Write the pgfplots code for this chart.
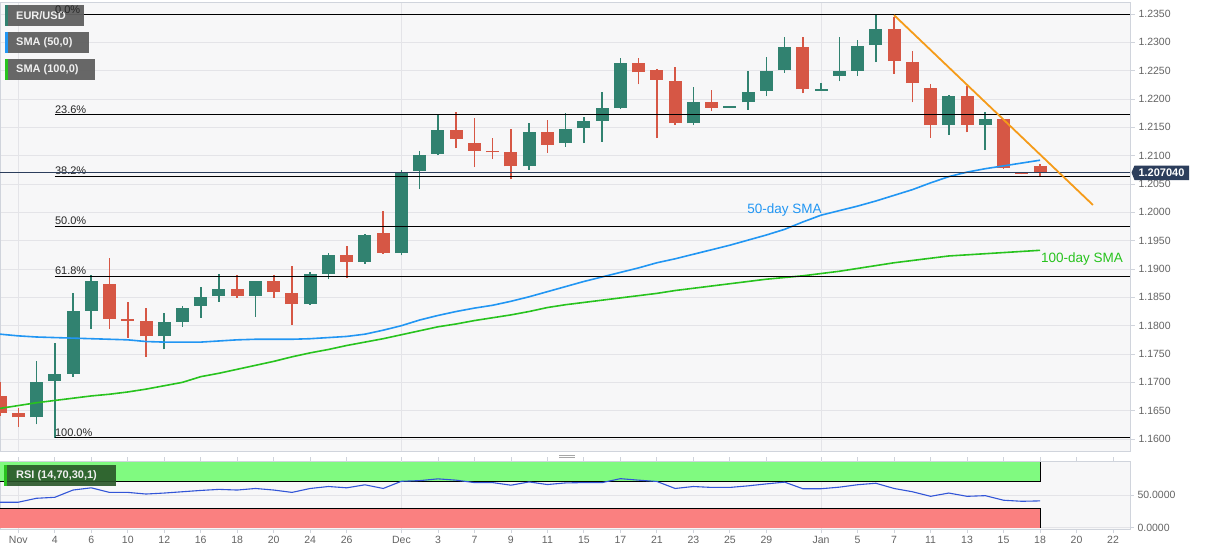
\documentclass[border=0pt]{standalone}
\usepackage{fontspec}
\setmainfont{Liberation Sans}
\usepackage{pgfplots}
\pgfplotsset{compat=1.18}
\usepackage{pgfplotstable}

\definecolor{upc}{RGB}{49,130,112}
\definecolor{downc}{RGB}{214,87,69}
\definecolor{smaA}{RGB}{33,150,243}
\definecolor{smaB}{RGB}{40,195,30}
\definecolor{trendc}{RGB}{245,155,25}
\definecolor{rsic}{RGB}{50,85,215}
\definecolor{rsigreen}{RGB}{128,250,128}
\definecolor{rsired}{RGB}{250,128,128}
\definecolor{pricec}{RGB}{44,62,92}
\definecolor{bgc}{RGB}{247,247,248}
\definecolor{bordc}{RGB}{208,212,220}
\definecolor{gridc}{RGB}{228,228,232}
\definecolor{labc}{RGB}{100,100,100}
\definecolor{boxc}{RGB}{96,96,96}

% EUR/USD daily candles, x = trading day (0 = 2 Nov)
\pgfplotstableread{
i o h l c
1 1.1638 1.1738 1.1626 1.1701
2 1.1703 1.1769 1.1602 1.1715
3 1.1715 1.1857 1.1710 1.1826
4 1.1826 1.1889 1.1795 1.1878
8 1.1781 1.1822 1.1758 1.1806
9 1.1807 1.1835 1.1798 1.1832
10 1.1835 1.1868 1.1814 1.1851
11 1.1853 1.1892 1.1842 1.1864
13 1.1853 1.1878 1.1816 1.1878
16 1.1838 1.1894 1.1837 1.1892
17 1.1892 1.1928 1.1882 1.1924
19 1.1913 1.1962 1.1909 1.1960
21 1.1928 1.2075 1.1924 1.2072
22 1.2073 1.2108 1.2041 1.2101
23 1.2103 1.2172 1.2101 1.2145
28 1.2081 1.2157 1.2075 1.2142
30 1.2122 1.2175 1.2116 1.2147
31 1.2148 1.2168 1.2122 1.2161
32 1.2162 1.2212 1.2125 1.2184
33 1.2184 1.2272 1.2182 1.2263
37 1.2157 1.2221 1.2154 1.2195
39 1.2185 1.2186 1.2184 1.2186
40 1.2194 1.2249 1.2181 1.2213
41 1.2215 1.2275 1.2205 1.2250
42 1.2251 1.2310 1.2246 1.2292
44 1.2215 1.2228 1.2215 1.2216
45 1.2241 1.2310 1.2231 1.2249
46 1.2250 1.2305 1.2241 1.2294
47 1.2295 1.2348 1.2265 1.2324
51 1.2154 1.2207 1.2137 1.2206
53 1.2155 1.2177 1.2110 1.2164
}\upcandles

\pgfplotstableread{
i o h l c
-1 1.1675 1.1701 1.1640 1.1646
0 1.1645 1.1655 1.1622 1.1638
5 1.1874 1.1919 1.1795 1.1812
6 1.1812 1.1842 1.1779 1.1809
7 1.1808 1.1831 1.1745 1.1781
12 1.1864 1.1889 1.1849 1.1853
14 1.1878 1.1889 1.1849 1.1859
15 1.1857 1.1905 1.1801 1.1838
18 1.1924 1.1941 1.1885 1.1913
20 1.1963 1.2002 1.1927 1.1928
24 1.2145 1.2177 1.2113 1.2129
25 1.2122 1.2166 1.2080 1.2109
26 1.2109 1.2132 1.2094 1.2106
27 1.2107 1.2147 1.2058 1.2081
29 1.2142 1.2163 1.2105 1.2119
34 1.2263 1.2272 1.2226 1.2247
35 1.2251 1.2253 1.2131 1.2234
36 1.2232 1.2256 1.2154 1.2157
38 1.2195 1.2216 1.2178 1.2185
43 1.2292 1.2310 1.2210 1.2217
48 1.2324 1.2345 1.2245 1.2267
49 1.2266 1.2285 1.2194 1.2228
50 1.2219 1.2226 1.2132 1.2154
52 1.2206 1.2223 1.2141 1.2155
54 1.2165 1.2165 1.2077 1.2079
55 1.2070 1.2070 1.2067 1.2068
56 1.2082 1.2085 1.2064 1.2070
}\downcandles

\pgfplotstableread{
i sma50 sma100 rsi
-1 1.1785 1.1654 39
0 1.1782 1.1659 39
1 1.1780 1.1664 45
2 1.1779 1.1668 46.5
3 1.1778 1.1672 57.6
4 1.1777 1.1676 61
5 1.1776 1.1679 54
6 1.1775 1.1683 54
7 1.1772 1.1688 51.5
8 1.1771 1.1694 53
9 1.1771 1.1700 55
10 1.1771 1.1710 57
11 1.1773 1.1716 58.6
12 1.1775 1.1723 57.6
13 1.1776 1.1730 60
14 1.1776 1.1737 57.6
15 1.1776 1.1745 54
16 1.1777 1.1752 60
17 1.1779 1.1758 63
18 1.1781 1.1765 61
19 1.1785 1.1771 65.6
20 1.1792 1.1777 60
21 1.1800 1.1784 71
22 1.1810 1.1791 72
23 1.1818 1.1798 74.7
24 1.1825 1.1803 72.7
25 1.1831 1.1809 69
26 1.1836 1.1814 69
27 1.1843 1.1819 65
28 1.1851 1.1825 70
29 1.1860 1.1832 66
30 1.1869 1.1837 68.5
31 1.1878 1.1841 69
32 1.1886 1.1845 69
33 1.1894 1.1849 75
34 1.1902 1.1853 72.7
35 1.1911 1.1857 70.7
36 1.1918 1.1862 60
37 1.1926 1.1866 63
38 1.1934 1.1870 61.6
39 1.1942 1.1874 61.6
40 1.1951 1.1878 64
41 1.1960 1.1882 67
42 1.1970 1.1885 69.7
43 1.1983 1.1888 59.6
44 1.1995 1.1892 59.6
45 1.2003 1.1896 62
46 1.2011 1.1901 65.7
47 1.2020 1.1906 68
48 1.2030 1.1911 60
49 1.2040 1.1915 55
50 1.2052 1.1919 48
51 1.2063 1.1923 53
52 1.2071 1.1925 48
53 1.2077 1.1927 49
54 1.2082 1.1929 42
55 1.2087 1.1931 40.4
56 1.2092 1.1933 41
}\ind

\tikzset{
  fiblab/.style={anchor=south west, inner sep=1pt, font=\fontsize{11}{12}\selectfont, text=black!85},
}
\pgfplotsset{
  tickfont/.style={font=\fontsize{10.5}{12}\selectfont, text=labc},
  wick/.style={draw=none, mark=none, forget plot,
    error bars/.cd, y dir=plus, y explicit, error mark=none,
    error bar style={draw=#1, line width=1.6pt}},
  body/.style={draw=none, mark=none, forget plot,
    error bars/.cd, y dir=plus, y explicit, error mark=none,
    error bar style={draw=#1, line width=13pt}},
}

\begin{document}
\begin{tikzpicture}[x=1pt,y=1pt]
\fill[white] (0,0) rectangle (1207,-555);
\useasboundingbox (0,0) rectangle (1207,-555);

\begin{axis}[
  at={(0pt,-451pt)}, anchor=south west,
  scale only axis, width=1130pt, height=449pt,
  xmin=-1.003, xmax=60.93, ymin=1.15788, ymax=1.23712,
  clip mode=individual,
  axis background/.style={fill=bgc},
  axis line style={draw=bordc},
  xtick={0,21,44}, xticklabels={}, xmajorgrids,
  x tick style={draw=none},
  ytick={1.160,1.165,1.170,1.175,1.180,1.185,1.190,1.195,1.200,1.205,1.210,1.215,1.220,1.225,1.230,1.235},
  ymajorgrids, grid style={draw=gridc, line width=0.8pt},
  yticklabel pos=right, tick align=outside, major tick length=5pt,
  y tick style={draw=bordc, line width=0.8pt},
  scaled y ticks=false,
  yticklabel style={tickfont, /pgf/number format/.cd, fixed, fixed zerofill, precision=4, assume math mode=true},
]
% candles
\addplot[wick=upc] table[x=i, y=l, y error expr=\thisrow{h}-\thisrow{l}] {\upcandles};
\addplot[wick=downc] table[x=i, y=l, y error expr=\thisrow{h}-\thisrow{l}] {\downcandles};
\addplot[body=upc] table[x=i, y expr={min(\thisrow{o},\thisrow{c})}, y error expr={max(abs(\thisrow{c}-\thisrow{o}),0.0003)}] {\upcandles};
\addplot[body=downc] table[x=i, y expr={min(\thisrow{o},\thisrow{c})}, y error expr={max(abs(\thisrow{c}-\thisrow{o}),0.0003)}] {\downcandles};

% moving averages
\addplot[smaA, line width=1.6pt, mark=none] table[x=i, y=sma50] {\ind};
\addplot[smaB, line width=1.6pt, mark=none] table[x=i, y=sma100] {\ind};

% Fibonacci retracements
\pgfplotsinvokeforeach{1.2349,1.21727,1.20636,1.19755,1.18874,1.1602}{
  \addplot[black, line width=1.2pt, mark=none, forget plot] coordinates {(2,#1) (61,#1)};
}
\node[fiblab] at (axis cs:1.95,1.21727) {23.6\%};
\node[fiblab] at (axis cs:1.95,1.20636) {38.2\%};
\node[fiblab] at (axis cs:1.95,1.19755) {50.0\%};
\node[fiblab] at (axis cs:1.95,1.18874) {61.8\%};
\node[fiblab] at (axis cs:1.95,1.1602) {100.0\%};

% last price
\addplot[pricec, line width=0.9pt, mark=none] coordinates {(-1.1,1.20704) (61,1.20704)};
% falling trend line
\addplot[trendc, line width=1.8pt, mark=none] coordinates {(48,1.2348) (58.9,1.2013)};

\node[font=\fontsize{13.5}{15}\selectfont, text=smaA] at (axis cs:42,1.2004) {50-day SMA};
\node[anchor=west, inner sep=0pt, font=\fontsize{13.5}{15}\selectfont, text=smaB] at (axis cs:56.05,1.19176) {100-day SMA};
\end{axis}

\begin{axis}[
  at={(0pt,-529pt)}, anchor=south west,
  scale only axis, width=1130pt, height=68pt,
  xmin=-1.003, xmax=60.93, ymin=-2, ymax=102,
  clip mode=individual,
  axis background/.style={fill=bgc},
  axis line style={draw=bordc},
  xtick={0,2,4,6,8,10,12,14,16,18,21,23,25,27,29,31,33,35,37,39,41,44,46,48,50,52,54,56,58,60},
  xticklabels={Nov,4,6,10,12,16,18,20,24,26,Dec,3,7,9,11,15,17,21,23,25,29,Jan,5,7,11,13,15,18,20,22},
  xticklabel style={tickfont},
  extra x ticks={0,21,44}, extra x tick labels={},
  extra x tick style={xmajorgrids=true, major tick length=0pt},
  ytick={0,50}, ymajorgrids, grid style={draw=gridc, line width=0.8pt},
  yticklabel pos=right, tick align=outside, major tick length=4pt,
  tick style={draw=bordc, line width=0.8pt},
  yticklabel style={tickfont, /pgf/number format/.cd, fixed, fixed zerofill, precision=4, assume math mode=true},
]
\addplot[fill=rsigreen, draw=none, forget plot] coordinates {(-1.1,70) (56,70) (56,100) (-1.1,100)} -- cycle;
\addplot[fill=rsired, draw=none, forget plot] coordinates {(-1.1,0) (56,0) (56,30) (-1.1,30)} -- cycle;
\addplot[black, line width=0.9pt, mark=none, forget plot] coordinates {(-1.1,70) (56,70) (56,100)};
\addplot[black, line width=0.9pt, mark=none, forget plot] coordinates {(-1.1,30) (56,30) (56,0)};
\addplot[rsic, line width=1.1pt, mark=none] table[x=i, y=rsi] {\ind};
\end{axis}

% indicator tags
\begin{scope}[every node/.style={anchor=west, inner sep=0pt, text=white!94!black, font=\bfseries\fontsize{11}{12}\selectfont}]
\fill[boxc, opacity=0.95] (5,-5) rectangle (84,-25.7);
\fill[upc] (5,-5) rectangle (7.5,-25.7);
\node at (16,-15.4) {EUR/USD};
\fill[boxc, opacity=0.95] (5,-32) rectangle (89,-52.7);
\fill[smaA] (5,-32) rectangle (7.5,-52.7);
\node at (16,-42.4) {SMA (50,0)};
\fill[boxc, opacity=0.95] (5,-59) rectangle (95,-80);
\fill[smaB] (5,-59) rectangle (7.5,-80);
\node at (16,-69.5) {SMA (100,0)};
\fill[boxc!70!green!60!black, opacity=0.9] (4,-465) rectangle (116,-485.7);
\fill[smaB] (4,-465) rectangle (6.5,-485.7);
\node at (16,-475.4) {RSI (14,70,30,1)};
\end{scope}
% 0.0% label sits on top of the first tag, as in the original
\node[fiblab] at (53.9,-14.6) {0.0\%};

% last price tag
\fill[pricec] (1131.5,-172.5) -- (1134.5,-165.5) -- (1189,-165.5) -- (1189,-180) -- (1134.5,-180) -- cycle;
\node[text=white, font=\bfseries\fontsize{11}{12}\selectfont, inner sep=0pt] at (1161.5,-172.8) {1.207040};

% panel grip
\draw[gray!70, line width=0.8pt] (559,-455) -- (575,-455) (559,-457.5) -- (575,-457.5);
\end{tikzpicture}
\end{document}
